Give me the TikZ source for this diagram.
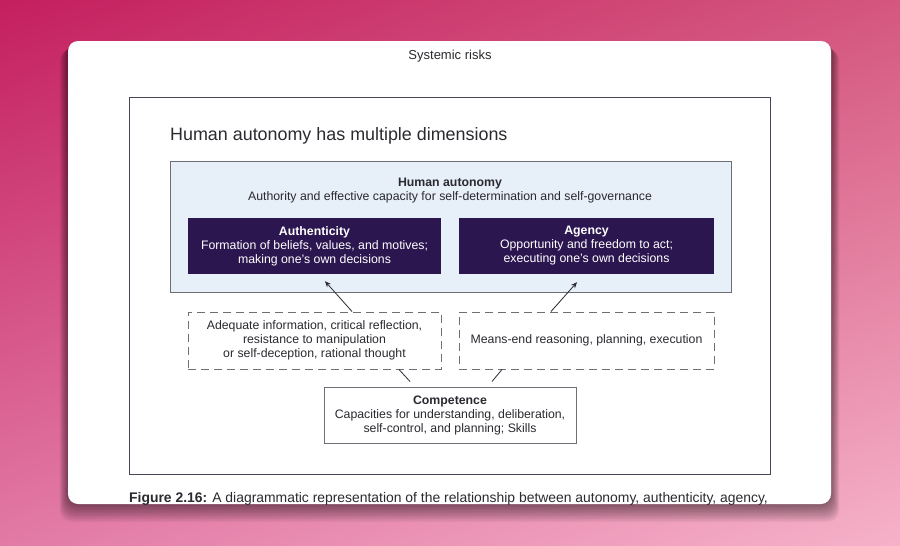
\documentclass[tikz,border=0pt]{standalone}
\usepackage{fontspec}
\setmainfont{Liberation Sans}
\usetikzlibrary{arrows.meta,shadings}
\definecolor{bgdeep}{HTML}{C41F5E}
\definecolor{bgmid}{HTML}{D4577F}
\definecolor{bglow}{HTML}{E27AA6}
\definecolor{bglight}{HTML}{F6B2C9}
\definecolor{framegray}{HTML}{4A4658}
\definecolor{boxgray}{HTML}{6E6E76}
\definecolor{paleblue}{HTML}{E7EFF9}
\definecolor{deeppurple}{HTML}{2C1650}
\definecolor{inkdark}{HTML}{2A2A30}
\tikzset{
  boxfont/.style={font=\fontsize{12.3}{14}\selectfont},
  dimbox/.style={fill=deeppurple,draw=none,text=white,align=center,boxfont,
    minimum width=#1,minimum height=56,inner sep=0pt},
  condbox/.style={draw=boxgray,line width=1pt,dash pattern=on 8pt off 5pt,
    text=inkdark,align=center,boxfont,minimum width=#1,minimum height=57,inner sep=0pt},
  link/.style={draw=inkdark,line width=0.8pt},
  arrowlink/.style={link,-{Stealth[length=6pt,width=5pt]}}
}
\begin{document}
\begin{tikzpicture}[x=1pt,y=-1pt]
\useasboundingbox (0,0) rectangle (900,546);
\shade[upper left=bgdeep,upper right=bgmid,lower left=bglow,lower right=bglight]
  (0,0) rectangle (900,546);
% card shadow
\foreach \i in {1,...,12}
  \fill[black,opacity=0.045,rounded corners=12]
    (68-\i*0.7,41+\i*0.7) rectangle (831+\i*0.7,504+\i*1.5);
\fill[white,rounded corners=10] (68,41) rectangle (831,504);
\node[font=\fontsize{13}{15}\selectfont,text=inkdark] (head) at (450,56.5) {Systemic risks};
\draw[framegray,line width=0.9pt] (129,97) rectangle (770,474);
\node[anchor=west,font=\fontsize{17.9}{20}\selectfont,text=inkdark,inner sep=0pt] (title) at (170,135.5)
  {Human autonomy has multiple dimensions};
\node[fill=paleblue,draw=boxgray,line width=0.9pt,minimum width=561,minimum height=131,
  inner sep=0pt] (ha) at (450.5,226.5) {};
\node[align=center,text=inkdark,font=\fontsize{12.3}{14.5}\selectfont] (hatext) at (450,190.5)
  {\textbf{Human autonomy}\\Authority and effective capacity for self-determination and self-governance};
\node[dimbox=253] (auth) at (314.5,246)
  {\textbf{Authenticity}\\Formation of beliefs, values, and motives;\\making one's own decisions};
\node[dimbox=255] (agency) at (586.5,246)
  {\textbf{Agency}\\Opportunity and freedom to act;\\executing one's own decisions};
\node[condbox=253] (ade) at (314.5,340.5)
  {Adequate information, critical reflection,\\resistance to manipulation\\or self-deception, rational thought};
\node[condbox=255] (means) at (586.5,340.5) {Means-end reasoning, planning, execution};
\node[draw=boxgray,line width=1pt,text=inkdark,align=center,minimum width=252,
  minimum height=56,inner sep=0pt,boxfont] (comp) at (450,415)
  {\textbf{Competence}\\Capacities for understanding, deliberation,\\self-control, and planning; Skills};
\draw[arrowlink] ([xshift=37.5]ade.north) -- ([shift={(10.5,7)}]auth.south);
\draw[arrowlink] ([xshift=-35.5]means.north) -- ([shift={(-9.5,8)}]agency.south);
\draw[link] ([xshift=84.5]ade.south) -- ([shift={(-40,-5)}]comp.north);
\draw[link] ([xshift=-84.5]means.south) -- ([shift={(42,-5)}]comp.north);
\begin{scope}
\clip[rounded corners=10] (68,41) rectangle (831,504);
\node[anchor=base west,font=\fontsize{13.9}{16}\selectfont,text=inkdark,inner sep=0pt] (caption) at (129,502.5)
  {\textbf{Figure 2.16:} A diagrammatic representation of the relationship between autonomy, authenticity, agency,};
\end{scope}
\end{tikzpicture}
\end{document}
